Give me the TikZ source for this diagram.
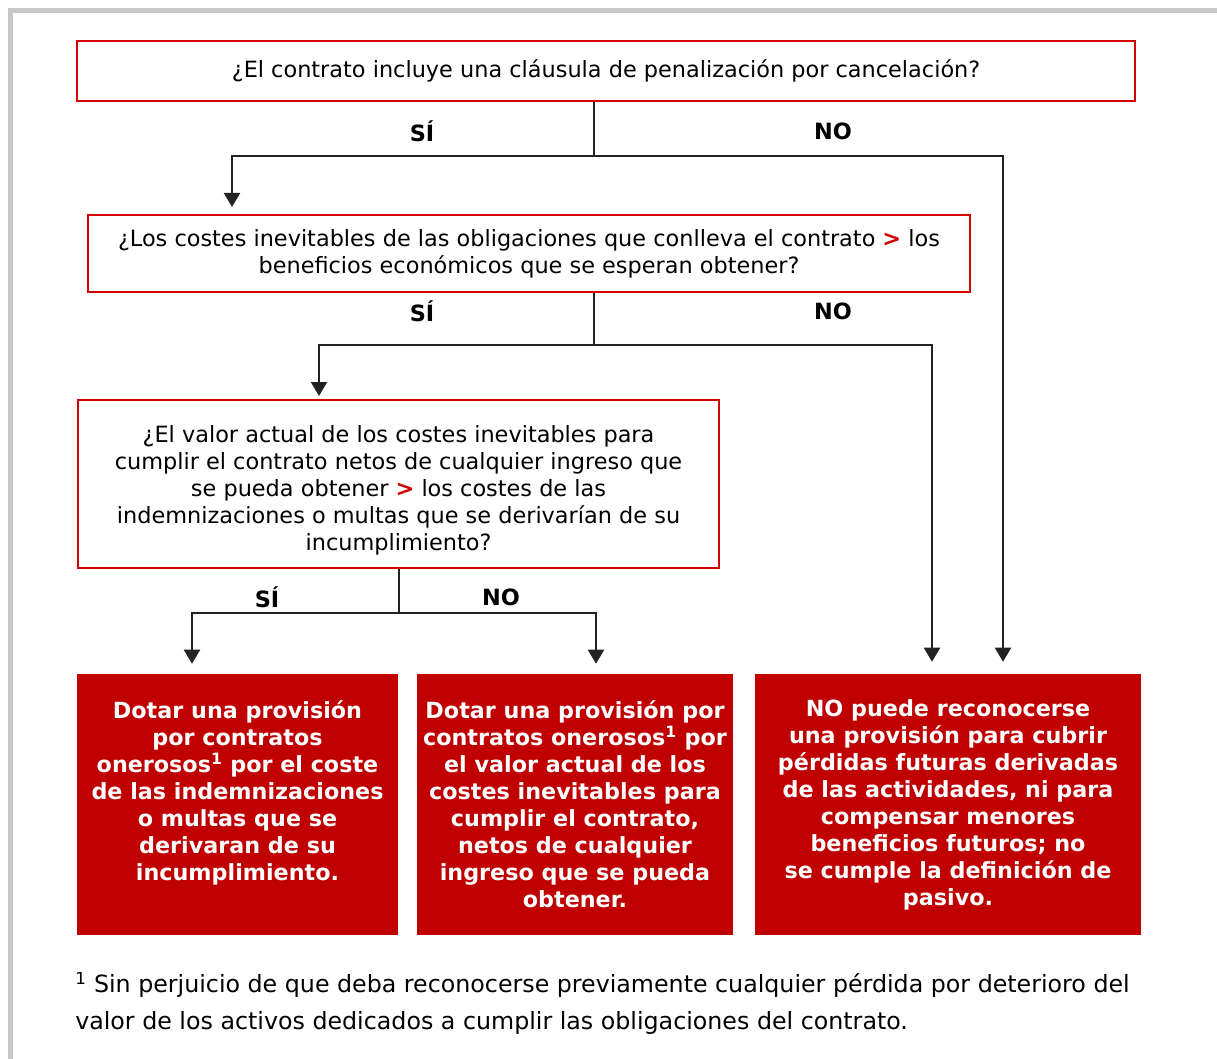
\documentclass[tikz,border=0pt]{standalone}
\usepackage{fontspec}
\setmainfont{DejaVu Sans}
\usepackage{tikz}
\usetikzlibrary{arrows.meta,positioning,calc}
\definecolor{ocred}   {HTML}{D20000}
\definecolor{ocfill}  {HTML}{C00000}
\definecolor{ocink}   {HTML}{222222}
\definecolor{ocframe} {HTML}{C8C8C8}
\newcommand{\pxu}{0.75pt}
\newcommand{\ocgt}{\textcolor{ocred}{\textbf{>}}}
\tikzset{
  ocask/.style={draw=ocred, line width=1.5pt, fill=white, inner sep=0pt, align=center,
                font=\fontsize{16.8}{20.25}\selectfont},
  ocres/.style={fill=ocfill, inner sep=0pt, align=center, text=white,
                font=\fontsize{16.7}{20.25}\selectfont\bfseries},
  ocedge/.style={draw=ocink, line width=1.5pt},
  ocarrow/.style={ocedge, -{Triangle[length=14*\pxu, width=16*\pxu]}},
  oclabel/.style={font=\fontsize{16.8}{20.25}\selectfont\bfseries, inner sep=0pt},
  ocnote/.style={font=\fontsize{17.8}{27.75}\selectfont, align=left, inner sep=0pt},
}
\begin{document}
\begin{tikzpicture}[x=0.75pt,y=-0.75pt]
  \useasboundingbox (0,0) rectangle (1217,1059);
  % grey frame, top and left only
  \fill[ocframe] (8,8) rectangle (1217,13);
  \fill[ocframe] (8,8) rectangle (13,1059);

  % questions
  \node[ocask, minimum width=1058*\pxu, minimum height=60*\pxu] (penal) at (606,71)
    {¿El contrato incluye una cláusula de penalización por cancelación?};
  \node[ocask, minimum width=882*\pxu, minimum height=77*\pxu] (compare) at (529,253.5)
    {¿Los costes inevitables de las obligaciones que conlleva el contrato \ocgt{} los\\
     beneficios económicos que se esperan obtener?};
  \node[ocask, minimum width=641*\pxu, minimum height=168*\pxu] (valor) at (398.5,484)
    {\rule{0pt}{22pt}¿El valor actual de los costes inevitables para\\
     cumplir el contrato netos de cualquier ingreso que\\
     se pueda obtener \ocgt{} los costes de las\\
     indemnizaciones o multas que se derivarían de su\\
     incumplimiento?};

  % outcomes
  \node[ocres, minimum width=321*\pxu, minimum height=261*\pxu] (indem) at (237.5,804.5)
    {Dotar una provisión\\ por contratos\\ onerosos\textsuperscript{1} por el coste\\
     de las indemnizaciones\\ o multas que se\\ derivaran de su\\ incumplimiento.\\ ~};
  \node[ocres, minimum width=316*\pxu, minimum height=261*\pxu] (oneroso) at (575,804.5)
    {Dotar una provisión por\\ contratos onerosos\textsuperscript{1} por\\ el valor actual de los\\
     costes inevitables para\\ cumplir el contrato,\\ netos de cualquier\\
     ingreso que se pueda\\ obtener.};
  \node[ocres, minimum width=386*\pxu, minimum height=261*\pxu] (nopasivo) at (948,804.5)
    {NO puede reconocerse\\ una provisión para cubrir\\ pérdidas futuras derivadas\\
     de las actividades, ni para\\ compensar menores\\ beneficios futuros; no\\
     se cumple la definición de\\ pasivo.};

  % junctions
  \coordinate (j1) at (594,156);
  \coordinate (j2) at (594,345);
  \coordinate (j3) at (399,613);

  \draw[ocedge] (penal.south -| j1) -- (j1);
  \draw[ocarrow, shorten >=7*\pxu] (j1) -| ([xshift=-297*\pxu]compare.north);
  \draw[ocarrow, shorten >=12*\pxu] (j1) -| ([xshift=55*\pxu]nopasivo.north);

  \draw[ocedge] (compare.south -| j2) -- (j2);
  \draw[ocarrow, shorten >=3*\pxu] (j2) -| ([xshift=-79.5*\pxu]valor.north);
  \draw[ocarrow, shorten >=12*\pxu] (j2) -| ([xshift=-16*\pxu]nopasivo.north);

  \draw[ocedge] (valor.south -| j3) -- (j3);
  \draw[ocarrow, shorten >=10*\pxu] (j3) -| ([xshift=-45.5*\pxu]indem.north);
  \draw[ocarrow, shorten >=10*\pxu] (j3) -| ([xshift=21*\pxu]oneroso.north);

  % branch labels
  \node[oclabel] (si1) at (422,131) {SÍ};
  \node[oclabel] (no1) at (833,131) {NO};
  \node[oclabel] (si2) at (422,311) {SÍ};
  \node[oclabel] (no2) at (833,311) {NO};
  \node[oclabel] (si3) at (267,597) {SÍ};
  \node[oclabel] (no3) at (501,597) {NO};

  % footnote
  \node[ocnote, anchor=north west] (nota) at (75,972)
    {\textsuperscript{1} Sin perjuicio de que deba reconocerse previamente cualquier pérdida por deterioro del\\
     valor de los activos dedicados a cumplir las obligaciones del contrato.};
\end{tikzpicture}
\end{document}
